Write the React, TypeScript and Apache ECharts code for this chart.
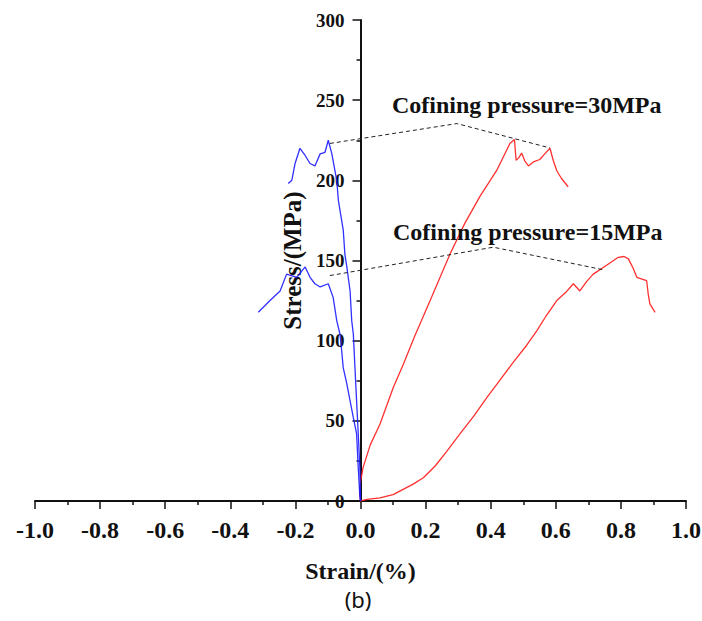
import React, { useEffect, useRef } from "react";
import * as echarts from "echarts";

// Axial (positive) and lateral (negative) strain vs. deviatoric stress
const axial30: [number, number][] = [
  [0, 0], [-0.003, 5], [0.0, 12], [0.008, 21], [0.03, 35], [0.06, 48], [0.101, 71], [0.131, 85],
  [0.167, 103], [0.214, 125], [0.275, 154], [0.32, 173], [0.367, 190], [0.418, 206],
  [0.459, 223], [0.473, 225.5], [0.478, 212.5], [0.486, 214], [0.495, 217], [0.505, 212],
  [0.516, 209], [0.531, 211.5], [0.551, 213], [0.568, 217], [0.582, 220], [0.592, 212.5],
  [0.603, 206], [0.618, 201], [0.638, 196],
];

const axial15: [number, number][] = [
  [0, 0], [0.02, 1], [0.06, 2], [0.1, 4], [0.162, 10.5], [0.193, 14.5], [0.23, 22], [0.265, 31],
  [0.306, 42], [0.348, 53], [0.388, 64.5], [0.429, 75.5], [0.469, 86.5], [0.51, 97],
  [0.541, 106], [0.572, 116], [0.603, 125], [0.63, 130], [0.654, 135.5], [0.674, 131],
  [0.695, 137], [0.715, 141.5], [0.756, 147], [0.792, 152], [0.81, 152.5], [0.823, 151],
  [0.838, 145], [0.849, 139.5], [0.879, 137.5], [0.884, 129], [0.889, 123], [0.905, 117.7],
];

const lateral30: [number, number][] = [
  [0, 0], [0.0, 3], [-0.002, 21], [-0.007, 42], [-0.012, 62.5], [-0.017, 83], [-0.022, 104],
  [-0.027, 112.5], [-0.032, 131], [-0.042, 146], [-0.048, 154], [-0.053, 169], [-0.068, 187.5],
  [-0.073, 200], [-0.088, 216.5], [-0.099, 225], [-0.109, 217.5], [-0.124, 216.5], [-0.14, 209],
  [-0.155, 210.5], [-0.17, 215.5], [-0.186, 220], [-0.201, 210.5], [-0.211, 200], [-0.222, 198],
];

const lateral15: [number, number][] = [
  [0, 0], [-0.002, 3], [-0.007, 21], [-0.012, 42], [-0.022, 52], [-0.032, 62.5], [-0.042, 73],
  [-0.053, 83], [-0.058, 94], [-0.063, 104], [-0.073, 112.5], [-0.084, 127], [-0.099, 135.5],
  [-0.124, 133.5], [-0.14, 135.5], [-0.155, 139.5], [-0.17, 146], [-0.196, 139.5],
  [-0.227, 141.5], [-0.247, 131], [-0.278, 125], [-0.314, 117.7],
];

// Leader lines from each label to its pair of curves
const leader30: [number, number][] = [[-0.094, 223], [0.296, 235.4], [0.582, 220.2]];
const leader15: [number, number][] = [[-0.094, 140.6], [0.408, 158.3], [0.746, 144.2]];

const label30 = "Cofining pressure=30MPa";
const label15 = "Cofining pressure=15MPa";
const xTitle = "Strain/(%)";
const yTitle = "Stress/(MPa)";
const panelTag = "(b)";

const SERIF = "'Liberation Serif', 'Times New Roman', serif";

const GRID_LEFT = 35;
const GRID_RIGHT = 16;
const CHART_W = 702;
const CHART_H = 621;

export default function App() {
  const ref = useRef<HTMLDivElement>(null);

  useEffect(() => {
    if (!ref.current) return;
    const chart = echarts.init(ref.current, undefined, { renderer: "svg" });

    // The stress axis sits at strain = 0, halfway across the plot area.
    const plotWidth = CHART_W - GRID_LEFT - GRID_RIGHT;
    const yAxisShift = -plotWidth / 2;

    const curve = (data: [number, number][], color: string) => ({
      type: "line",
      data,
      showSymbol: false,
      symbol: "none",
      lineStyle: { color, width: 1.3, opacity: 0.9 },
      z: 3,
    });
    const leader = (data: [number, number][]) => ({
      type: "line",
      data,
      showSymbol: false,
      symbol: "none",
      lineStyle: { color: "#222", width: 1, type: [4, 3] },
      z: 4,
    });

    chart.setOption({
      animation: false,
      backgroundColor: "#ffffff",
      grid: {
        left: GRID_LEFT,
        right: GRID_RIGHT,
        top: 20,
        bottom: 120,
        containLabel: false,
        outerBoundsMode: "none",
      },
      xAxis: {
        type: "value",
        min: -1,
        max: 1,
        interval: 0.2,
        name: xTitle,
        nameLocation: "middle",
        nameGap: 58,
        nameTextStyle: { fontFamily: SERIF, fontWeight: "bold", fontSize: 24, color: "#111" },
        axisLine: { show: true, onZero: false, lineStyle: { color: "#111", width: 2 } },
        axisTick: { show: true, inside: false, length: 8, lineStyle: { color: "#111", width: 1.5 } },
        minorTick: { show: true, splitNumber: 2, length: 4, lineStyle: { color: "#111", width: 1.5 } },
        splitLine: { show: false },
        axisLabel: {
          margin: 17,
          fontFamily: SERIF,
          fontWeight: "bold",
          fontSize: 24,
          color: "#111",
          formatter: (v: number) => v.toFixed(1),
        },
      },
      yAxis: {
        type: "value",
        min: 0,
        max: 300,
        interval: 50,
        offset: yAxisShift,
        name: yTitle,
        nameLocation: "middle",
        nameRotate: 90,
        nameGap: 50,
        nameTextStyle: { fontFamily: SERIF, fontWeight: "bold", fontSize: 25, color: "#111" },
        axisLine: { show: true, onZero: false, lineStyle: { color: "#111", width: 2 } },
        axisTick: { show: true, inside: false, length: 8, lineStyle: { color: "#111", width: 1.5 } },
        minorTick: { show: true, splitNumber: 2, length: 4, lineStyle: { color: "#111", width: 1.5 } },
        splitLine: { show: false },
        axisLabel: {
          margin: 16,
          fontFamily: SERIF,
          fontWeight: "bold",
          fontSize: 19,
          color: "#111",
        },
      },
      series: [
        curve(axial30, "#ff1a1a"),
        curve(axial15, "#ff1a1a"),
        curve(lateral30, "#1a1aff"),
        curve(lateral15, "#1a1aff"),
        leader(leader30),
        leader(leader15),
      ],
      graphic: [
        {
          type: "text",
          left: 392,
          top: 93,
          style: { text: label30, font: `bold 24px ${SERIF}`, fill: "#111" },
          z: 10,
        },
        {
          type: "text",
          left: 393,
          top: 220,
          style: { text: label15, font: `bold 24px ${SERIF}`, fill: "#111" },
          z: 10,
        },
        {
          type: "text",
          x: 358,
          y: 588,
          style: {
            text: panelTag,
            font: `22px 'Noto Sans', 'DejaVu Sans', sans-serif`,
            fill: "#111",
            align: "center",
            verticalAlign: "top",
          },
          z: 10,
        },
      ],
    });

    return () => chart.dispose();
  }, []);

  return (
    <div
      ref={ref}
      style={{ position: "fixed", left: 0, top: 0, width: CHART_W, height: CHART_H, background: "#fff" }}
    />
  );
}
